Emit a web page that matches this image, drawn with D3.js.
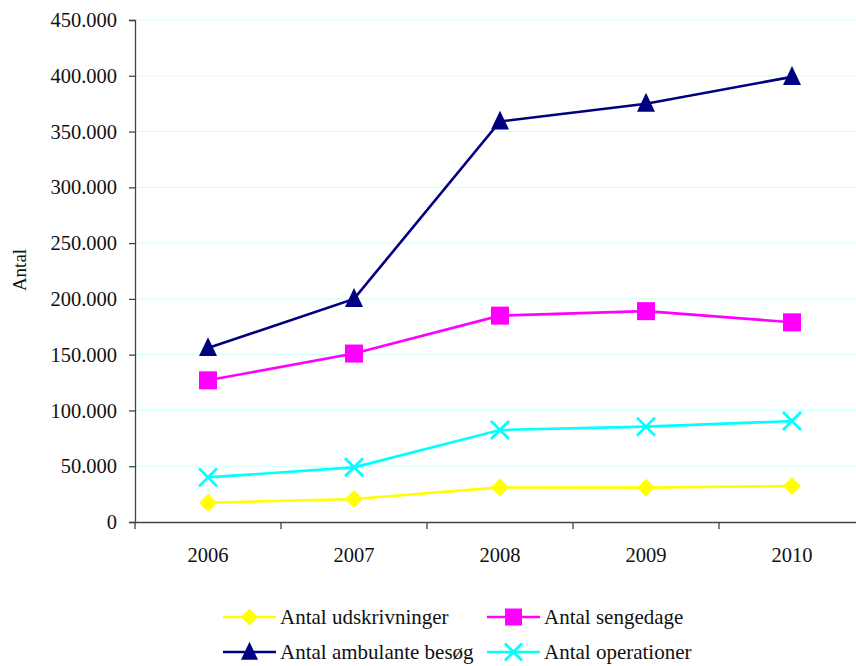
<!DOCTYPE html>
<html><head><meta charset="utf-8">
<script src="https://cdn.jsdelivr.net/npm/d3@7/dist/d3.min.js"></script>
<style>body{margin:0;background:#fff}svg{display:block}svg text{font-family:"Liberation Serif","Times New Roman",Times,"DejaVu Serif",serif}</style>
</head><body>
<svg id="c" width="856" height="666"></svg>
<script>
const years = ["2006","2007","2008","2009","2010"];
const udskrivninger = [17300, 20600, 31000, 30800, 32300];
const sengedage = [127000, 151000, 185000, 189000, 179000];
const ambulante = [156000, 200000, 359000, 375000, 399000];
const operationer = [40000, 49000, 82500, 85500, 90500];
const yTicks = [0,50000,100000,150000,200000,250000,300000,350000,400000,450000];
const seriesNames = ["Antal udskrivninger","Antal sengedage","Antal ambulante besøg","Antal operationer"];

const series = [
  {name: seriesNames[0], values: udskrivninger, color: "#ffff00", marker: "diamond"},
  {name: seriesNames[1], values: sengedage, color: "#ff00ff", marker: "square"},
  {name: seriesNames[2], values: ambulante, color: "#000080", marker: "triangle"},
  {name: seriesNames[3], values: operationer, color: "#00ffff", marker: "x"}
];

const svg = d3.select("#c");
const L = 135, R = 865, T = 20, B = 522;
const x = d3.scaleBand().domain(years).range([L, R]);
const y = d3.scaleLinear().domain([0, 450000]).range([B, T]);
const fmt = v => v === 0 ? "0" : d3.format(",")(v).replace(/,/g, ".");

svg.append("g").selectAll("line").data(yTicks.filter(d => d > 0)).join("line")
  .attr("x1", L).attr("x2", R).attr("y1", d => y(d)).attr("y2", d => y(d))
  .attr("stroke", "#ccffff").attr("stroke-width", 1);

const ya = svg.append("g").attr("transform", `translate(${L},0)`)
  .call(d3.axisLeft(y).tickValues(yTicks).tickFormat(fmt).tickSize(6).tickPadding(12));
ya.attr("font-family", null);
ya.select(".domain").attr("stroke", "#444").attr("stroke-width", 1.3);
ya.selectAll(".tick line").attr("stroke", "#444").attr("stroke-width", 1.3);
ya.selectAll("text").attr("font-size", 20.5).attr("fill", "#111");

const xa = svg.append("g").attr("transform", `translate(0,${B})`)
  .call(d3.axisBottom(x).tickSize(0).tickPadding(25));
xa.attr("font-family", null);
xa.select(".domain").attr("stroke", "#444").attr("stroke-width", 1.3);
xa.selectAll("text").attr("font-size", 20.5).attr("fill", "#111");
const bounds = years.map(d => x(d)).concat([R]);
svg.append("g").selectAll("line").data(bounds).join("line")
  .attr("x1", d => d).attr("x2", d => d).attr("y1", B).attr("y2", B + 7)
  .attr("stroke", "#444").attr("stroke-width", 1.3);

svg.append("text").attr("transform", "translate(26,270) rotate(-90)")
  .attr("text-anchor", "middle").attr("font-size", 19)
  .attr("fill", "#111").text("Antal");

function drawMarker(g, type, cx, cy, color, s) {
  if (type === "diamond") {
    g.append("path").attr("d", `M${cx},${cy-s/2}L${cx+s/2},${cy}L${cx},${cy+s/2}L${cx-s/2},${cy}Z`).attr("fill", color);
  } else if (type === "square") {
    g.append("rect").attr("x", cx - s/2).attr("y", cy - s/2).attr("width", s).attr("height", s).attr("fill", color);
  } else if (type === "triangle") {
    g.append("path").attr("d", `M${cx},${cy-s*0.6}L${cx+s/2},${cy+s*0.45}L${cx-s/2},${cy+s*0.45}Z`).attr("fill", color);
  } else {
    const h = s/2;
    g.append("path").attr("d", `M${cx-h},${cy-h}L${cx+h},${cy+h}M${cx+h},${cy-h}L${cx-h},${cy+h}`)
      .attr("stroke", color).attr("stroke-width", 2.8).attr("fill", "none");
  }
}

const line = d3.line().x((d, i) => x(years[i]) + x.bandwidth()/2).y(d => y(d));
series.forEach(s => {
  const g = svg.append("g");
  g.append("path").attr("d", line(s.values)).attr("fill", "none")
    .attr("stroke", s.color).attr("stroke-width", 2.6);
  s.values.forEach((v, i) => drawMarker(g, s.marker, x(years[i]) + x.bandwidth()/2, y(v), s.color, 18));
});

const legendPos = [[223, 617], [487, 617], [223, 652], [487, 652]];
series.forEach((s, i) => {
  const [lx, ly] = legendPos[i];
  const g = svg.append("g");
  g.append("line").attr("x1", lx).attr("x2", lx + 53).attr("y1", ly).attr("y2", ly)
    .attr("stroke", s.color).attr("stroke-width", 2.6);
  drawMarker(g, s.marker, lx + 26.5, ly, s.color, 17);
  g.append("text").attr("x", lx + 57).attr("y", ly + 7)
    .attr("font-size", 21).attr("fill", "#111").text(s.name);
});
</script>
</body></html>
